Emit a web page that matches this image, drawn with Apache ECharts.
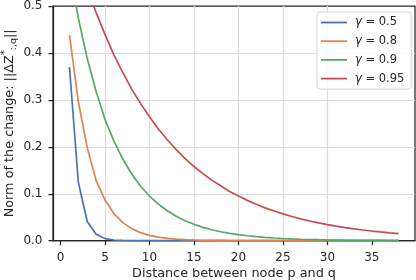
<!DOCTYPE html>
<html>
<head>
<meta charset="utf-8">
<script src="https://cdn.jsdelivr.net/npm/echarts@6/dist/echarts.min.js"></script>
<style>html,body{margin:0;padding:0;background:#fff;}#c{width:416px;height:280px;}</style>
</head>
<body>
<div id="c"></div>
<script>
const distances = [1,2,3,4,5,6,7,8,9,10,11,12,13,14,15,16,17,18,19,20,21,22,23,24,25,26,27,28,29,30,31,32,33,34,35,36,37,38];
const gammas = ['0.5','0.8','0.9','0.95'];
const normG05 = [0.370,0.124,0.041,0.0137,0.0046,0.0015,0.0005,0.0002,0.0001,0,0,0,0,0,0,0,0,0,0,0,0,0,0,0,0,0,0,0,0,0,0,0,0,0,0,0,0,0];
const normG08 = [0.438,0.296,0.198,0.128,0.0866,0.0578,0.0385,0.0257,0.0171,0.0114,0.0076,0.0051,0.0034,0.0023,0.0015,0.0010,0.0007,0.0005,0.0003,0.0002,0.0001,0.0001,0.0001,0,0,0,0,0,0,0,0,0,0,0,0,0,0,0];
const normG09 = [0.580,0.474,0.388,0.318,0.258,0.212,0.174,0.142,0.116,0.0952,0.0779,0.0637,0.0521,0.0426,0.0349,0.0285,0.0233,0.0191,0.0156,0.0128,0.0105,0.0086,0.0070,0.0057,0.0047,0.0038,0.0031,0.0026,0.0021,0.0017,0.0014,0.0011,0.0009,0.0008,0.0006,0.0005,0.0004,0.0003];
const normG095 = [0.660,0.596,0.538,0.486,0.439,0.396,0.358,0.323,0.292,0.264,0.238,0.215,0.194,0.175,0.158,0.143,0.129,0.117,0.105,0.095,0.0859,0.0776,0.0700,0.0632,0.0571,0.0516,0.0466,0.0420,0.0380,0.0343,0.0310,0.0280,0.0252,0.0228,0.0206,0.0186,0.0168,0.0151];
const xTicks = [0,5,10,15,20,25,30,35];
const yTicks = [0,0.1,0.2,0.3,0.4,0.5];

const colors = ['#4C72B0','#DD8452','#55A868','#C44E52'];
const allValues = [normG05, normG08, normG09, normG095];
const TXT = '#262626';
const FONT = 'DejaVu Sans';

const chart = echarts.init(document.getElementById('c'), null, {renderer:'canvas'});
const series = gammas.map((g, i) => ({
  name: 'γ = ' + g,
  type: 'line',
  data: distances.map((d, j) => [d, allValues[i][j]]),
  showSymbol: false,
  symbol: 'none',
  clip: true,
  lineStyle: {color: colors[i], width: 1.7},
  itemStyle: {color: colors[i]},
  emphasis: {disabled: true},
  animation: false
}));

chart.setOption({
  animation: false,
  color: colors,
  grid: {left: 53, right: 1, top: 6, bottom: 39.3, show: true, borderColor: TXT, borderWidth: 1.25, backgroundColor: '#fff', containLabel: false, outerBoundsMode: 'none'},
  xAxis: {
    type: 'value', min: -0.85, max: 39.85, interval: 5,
    name: 'Distance between node p and q', nameLocation: 'middle', nameGap: 26, nameMoveOverlap: false,
    nameTextStyle: {color: TXT, fontFamily: FONT, fontSize: 12.8},
    axisLine: {show: true, onZero: false, lineStyle: {color: TXT, width: 1.25}},
    axisTick: {show: true, inside: false, length: 4.5, customValues: xTicks, lineStyle: {color: TXT, width: 1.25}},
    axisLabel: {customValues: xTicks, color: TXT, fontFamily: FONT, fontSize: 12, margin: 11.5, formatter: v => String(v)},
    splitLine: {show: true, showMinLine: false, showMaxLine: false, lineStyle: {color: '#dcdcdc', width: 1.2}}
  },
  yAxis: {
    type: 'value', min: 0, max: 0.5, interval: 0.1,
    name: '{m|Norm of the change: ||ΔZ}{sup|*}{sub|:,q}{m|||}', nameLocation: 'middle', nameGap: 34.5, nameRotate: 90, nameMoveOverlap: false,
    nameTextStyle: {color: TXT, fontFamily: FONT, fontSize: 12.8,
      rich: {
        m: {fontSize: 12.8, fontFamily: FONT, color: TXT, lineHeight: 18},
        sup: {fontSize: 10, fontFamily: FONT, color: TXT, lineHeight: 10, verticalAlign: 'top'},
        sub: {fontSize: 9.5, fontFamily: FONT, color: TXT, lineHeight: 10, verticalAlign: 'bottom'}
      }},
    axisLine: {show: true, onZero: false, lineStyle: {color: TXT, width: 1.25}},
    axisTick: {show: true, inside: false, length: 4.5, lineStyle: {color: TXT, width: 1.25}},
    axisLabel: {color: TXT, fontFamily: FONT, fontSize: 12, margin: 10.5, formatter: v => v.toFixed(1)},
    splitLine: {show: true, showMinLine: false, showMaxLine: false, lineStyle: {color: '#dcdcdc', width: 1.2}}
  },
  legend: {
    orient: 'vertical', left: 317, top: 12,
    padding: [4, 7, 4, 4], itemGap: 5.7, itemWidth: 26, itemHeight: 1.8, icon: 'rect',
    backgroundColor: 'rgba(255,255,255,0.85)', borderColor: '#d5d5d5', borderWidth: 1, borderRadius: 3,
    formatter: name => '{g|γ}' + name.slice(1),
    textStyle: {color: TXT, fontFamily: FONT, fontSize: 11.5, lineHeight: 13, padding: [0,0,0,3],
      rich: {g: {fontStyle: 'italic', fontFamily: FONT, fontSize: 11.5, lineHeight: 13, color: TXT}}},
    data: gammas.map(g => 'γ = ' + g)
  },
  series: series
});
</script>
</body>
</html>
